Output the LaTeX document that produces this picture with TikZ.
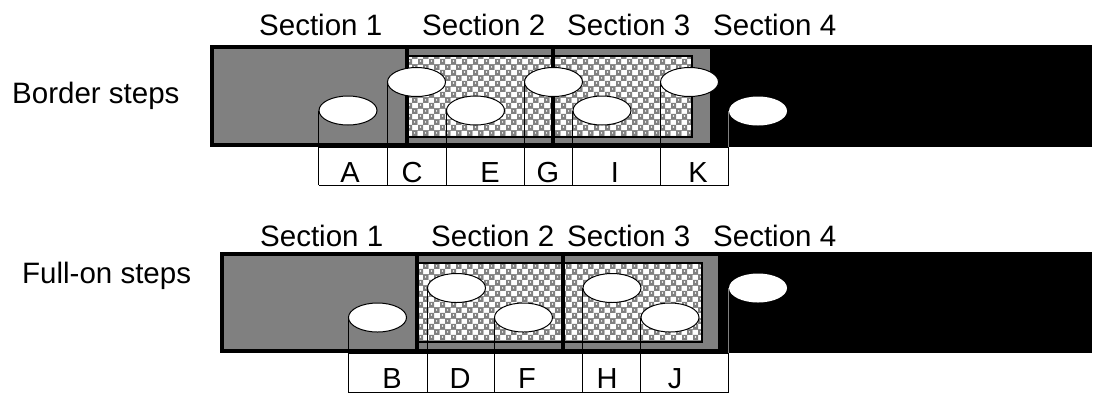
\documentclass[tikz,border=0pt]{standalone}
\usepackage{fontspec}
\setmainfont{Liberation Sans}
\usetikzlibrary{shapes.geometric,patterns}
\definecolor{sgray}{HTML}{808080}
\pgfdeclarepatterninherentlycolored{mychecker}{\pgfpointorigin}{\pgfqpoint{11pt}{11pt}}{\pgfqpoint{11pt}{11pt}}{%
  \pgfsetfillcolor{white}%
  \pgfpathrectangle{\pgfpointorigin}{\pgfqpoint{11pt}{11pt}}%
  \pgfusepath{fill}%
  \pgfsetfillcolor{sgray}%
  \pgfpathrectangle{\pgfpointorigin}{\pgfqpoint{5.5pt}{5.5pt}}%
  \pgfpathrectangle{\pgfqpoint{5.5pt}{5.5pt}}{\pgfqpoint{5.5pt}{5.5pt}}%
  \pgfusepath{fill}%
  \pgfsetfillcolor{white}%
  \pgfpathcircle{\pgfqpoint{2.75pt}{3.2pt}}{0.9pt}%
  \pgfpathcircle{\pgfqpoint{8.25pt}{8.7pt}}{0.9pt}%
  \pgfusepath{fill}}
\tikzset{
  stepell/.style={ellipse, draw, fill=white, line width=1pt, minimum width=58pt, minimum height=29pt, inner sep=0pt},
  txt/.style={font=\fontsize{29.5}{31}\selectfont, inner sep=0pt, anchor=base west},
  lbl/.style={font=\fontsize{29}{31}\selectfont, inner sep=0pt, anchor=base},
  conn/.style={line width=1pt},
  sepline/.style={line width=3.5pt},
  outer/.style={line width=4pt},
  inner/.style={line width=2pt},
  hatch/.style={pattern=mychecker}
}
\begin{document}
\begin{tikzpicture}[x=1pt,y=-1pt]
\useasboundingbox (0,0) rectangle (1094,394);
% ---------- top band ----------
\fill[sgray] (210,45) rectangle (710,147);
\fill[black] (710,45) rectangle (1092,147);
\fill[hatch] (407,56) rectangle (692,137);
\draw[inner] (407,56) rectangle (692,137);
\draw[outer] (212,47) rectangle (1090,145);
\draw[sepline] (407,45) -- (407,147);
\draw[sepline] (553,45) -- (553,147);
% ---------- bottom band ----------
\fill[sgray] (220,252) rectangle (718,353);
\fill[black] (718,252) rectangle (1092,353);
\fill[hatch] (417,263) rectangle (702,342);
\draw[inner] (417,263) rectangle (702,342);
\draw[outer] (222,254) rectangle (1090,351);
\draw[sepline] (417,252) -- (417,353);
\draw[sepline] (563,252) -- (563,353);
% ---------- texts ----------
\node[txt] (s1a) at (259,35) {Section 1};
\node[txt] (s2a) at (422,35) {Section 2};
\node[txt] (s3a) at (567,35) {Section 3};
\node[txt] (s4a) at (713,35) {Section 4};
\node[txt] (s1b) at (260,246) {Section 1};
\node[txt] (s2b) at (431,246) {Section 2};
\node[txt] (s3b) at (567,246) {Section 3};
\node[txt] (s4b) at (713,246) {Section 4};
\node[txt] (bs) at (12,103) {Border steps};
\node[txt] (fs) at (22,283) {Full-on steps};
% ---------- top ellipses ----------
\coordinate (tbot) at (0,185);
\coordinate (tband) at (0,147);
\node[stepell] (A) at (348,110.5) {};
\node[stepell] (C) at (416.5,82) {};
\node[stepell] (E) at (475.5,110.5) {};
\node[stepell] (G) at (553.5,82) {};
\node[stepell] (I) at (602,110.5) {};
\node[stepell] (K) at (689.5,82) {};
\node[stepell, draw=none] (T) at (758,111) {};
\foreach \n in {A,C,E,G,I,K} \draw[conn] (\n.west) -- (\n.west |- tbot);
\draw[conn, sgray] (T.west) -- (T.west |- tband);
\draw[conn] (T.west |- tband) -- (T.west |- tbot);
\draw[conn] (A.west |- tbot) -- (T.west |- tbot);
\draw[conn] (A.west |- tband) -- (T.west |- tband);
\node[lbl] (lA) at (350,182) {A};
\node[lbl] (lC) at (412,182) {C};
\node[lbl] (lE) at (490,182) {E};
\node[lbl] (lG) at (548,182) {G};
\node[lbl] (lI) at (615,182) {I};
\node[lbl] (lK) at (698,182) {K};
% ---------- bottom ellipses ----------
\coordinate (bbot) at (0,392);
\coordinate (bband) at (0,353);
\node[stepell] (B) at (377.5,317.5) {};
\node[stepell] (D) at (456.5,288) {};
\node[stepell] (F) at (523.5,317.5) {};
\node[stepell] (H) at (612,288) {};
\node[stepell] (J) at (670,317.5) {};
\node[stepell, draw=none] (L) at (758,288) {};
\foreach \n in {B,D,F,H,J} \draw[conn] (\n.west) -- (\n.west |- bbot);
\draw[conn, sgray] (L.west) -- (L.west |- bband);
\draw[conn] (L.west |- bband) -- (L.west |- bbot);
\draw[conn] (B.west |- bbot) -- (L.west |- bbot);
\draw[conn] (B.west |- bband) -- (L.west |- bband);
\node[lbl] (lB) at (392,388) {B};
\node[lbl] (lD) at (460,388) {D};
\node[lbl] (lF) at (527,388) {F};
\node[lbl] (lH) at (607,388) {H};
\node[lbl] (lJ) at (675,388) {J};
\end{tikzpicture}
\end{document}
